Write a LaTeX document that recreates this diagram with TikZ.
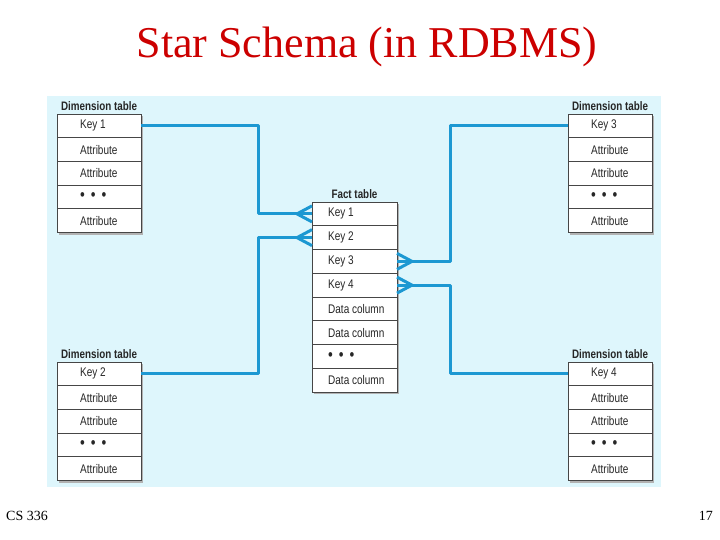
\documentclass[tikz,border=0pt]{standalone}
\usepackage{fontspec}
\setmainfont{Liberation Serif}
\newfontfamily\cellfont[FakeStretch=0.8]{Liberation Sans}
\usetikzlibrary{calc}
\definecolor{panelc}{RGB}{222,246,252}
\definecolor{linkc}{RGB}{28,152,210}
\definecolor{titlec}{RGB}{204,0,0}
\definecolor{borderc}{RGB}{70,70,70}
\tikzset{
  dimcell/.style={draw=borderc, line width=0.9pt, fill=white, rectangle, outer sep=0pt,
    minimum height=23.7pt, minimum width=84pt, inner sep=0pt},
  factcell/.style={dimcell, minimum height=23.75pt, minimum width=85pt},
  celltext/.style={anchor=west, inner sep=0pt, font=\cellfont\fontsize{12.5}{14}\selectfont, text=black!85},
  tablabel/.style={font=\cellfont\bfseries\fontsize{12.3}{14}\selectfont, inner sep=0pt, text=black!85},
  link/.style={draw=linkc, line width=3pt, line join=round},
  shadowc/.style={fill=black!30}
}
\newcommand{\tdots}{{\fontsize{17}{14}\selectfont\textbullet\hspace{6pt}\textbullet\hspace{6pt}\textbullet}}
\newcommand{\dimtab}[4]{%
  \fill[shadowc] (#2+2,#3+2) rectangle ++(84,118.5);
  \node[tablabel] (#1-lab) at (#2+42,#3-8) {Dimension table};
  \node[dimcell, anchor=north west] (#1-1) at (#2,#3) {};
  \node[dimcell, anchor=north] (#1-2) at (#1-1.south) {};
  \node[dimcell, anchor=north] (#1-3) at (#1-2.south) {};
  \node[dimcell, anchor=north] (#1-4) at (#1-3.south) {};
  \node[dimcell, anchor=north] (#1-5) at (#1-4.south) {};
  \node[celltext] (#1-1t) at ($(#1-1.west)+(23,0)$) {#4};
  \node[celltext] (#1-2t) at ($(#1-2.west)+(23,0)$) {Attribute};
  \node[celltext] (#1-3t) at ($(#1-3.west)+(23,0)$) {Attribute};
  \node[celltext] (#1-4t) at ($(#1-4.west)+(23,0)$) {\tdots};
  \node[celltext] (#1-5t) at ($(#1-5.west)+(23,0)$) {Attribute};
}
\begin{document}
\begin{tikzpicture}[x=1pt,y=-1pt]
\useasboundingbox (0,0) rectangle (720,540);
\fill[white] (0,0) rectangle (720,540);
\node[text=titlec, font=\fontsize{44}{50}\selectfont, inner sep=0pt] (title) at (367,47) {Star Schema (in RDBMS)};
\fill[panelc] (47,96) rectangle (661,487);
\node[anchor=west, font=\fontsize{14}{16}\selectfont, inner sep=0pt] (foot) at (6,516) {CS 336};
\node[anchor=east, font=\fontsize{14}{16}\selectfont, inner sep=0pt] (page) at (713,516) {17};

\dimtab{d1}{57}{114}{Key 1}
\dimtab{d3}{568}{114}{Key 3}
\dimtab{d2}{57}{362}{Key 2}
\dimtab{d4}{568}{362}{Key 4}

% fact table
\fill[shadowc] (314,204) rectangle ++(85,190);
\node[tablabel] (flab) at (354.5,194) {Fact table};
\node[factcell, anchor=north west] (f-1) at (312,202) {};
\node[factcell, anchor=north] (f-2) at (f-1.south) {};
\node[factcell, anchor=north] (f-3) at (f-2.south) {};
\node[factcell, anchor=north] (f-4) at (f-3.south) {};
\node[factcell, anchor=north] (f-5) at (f-4.south) {};
\node[factcell, anchor=north] (f-6) at (f-5.south) {};
\node[factcell, anchor=north] (f-7) at (f-6.south) {};
\node[factcell, anchor=north] (f-8) at (f-7.south) {};
\node[celltext] (f-1t) at ($(f-1.west)+(16,0)$) {Key 1};
\node[celltext] (f-2t) at ($(f-2.west)+(16,0)$) {Key 2};
\node[celltext] (f-3t) at ($(f-3.west)+(16,0)$) {Key 3};
\node[celltext] (f-4t) at ($(f-4.west)+(16,0)$) {Key 4};
\node[celltext] (f-5t) at ($(f-5.west)+(16,0)$) {Data column};
\node[celltext] (f-6t) at ($(f-6.west)+(16,0)$) {Data column};
\node[celltext] (f-7t) at ($(f-7.west)+(16,0)$) {\tdots};
\node[celltext] (f-8t) at ($(f-8.west)+(16,0)$) {Data column};

% connectors
\coordinate (jl) at (258,0);
\coordinate (jr) at (450,0);
\draw[link] (d1-1.east) -- (d1-1.east -| jl) |- (f-1.west);
\draw[link] (d2-1.east) -- (d2-1.east -| jl) |- (f-2.west);
\draw[link] (f-3.east) -- (f-3.east -| jr) |- (d3-1.west);
\draw[link] (f-4.east) -- (f-4.east -| jr) |- (d4-1.west);

% crow's feet
\coordinate (cf1) at ($(f-1.west)+(-15,0)$);
\coordinate (cf2) at ($(f-2.west)+(-15,0)$);
\coordinate (cf3) at ($(f-3.east)+(15,0)$);
\coordinate (cf4) at ($(f-4.east)+(15,0)$);
\draw[link] ($(f-1.west)+(0,-8)$) -- (cf1) -- ($(f-1.west)+(0,8)$);
\draw[link] ($(f-2.west)+(0,-8)$) -- (cf2) -- ($(f-2.west)+(0,8)$);
\draw[link] ($(f-3.east)+(0,-8)$) -- (cf3) -- ($(f-3.east)+(0,8)$);
\draw[link] ($(f-4.east)+(0,-8)$) -- (cf4) -- ($(f-4.east)+(0,8)$);
\end{tikzpicture}
\end{document}
